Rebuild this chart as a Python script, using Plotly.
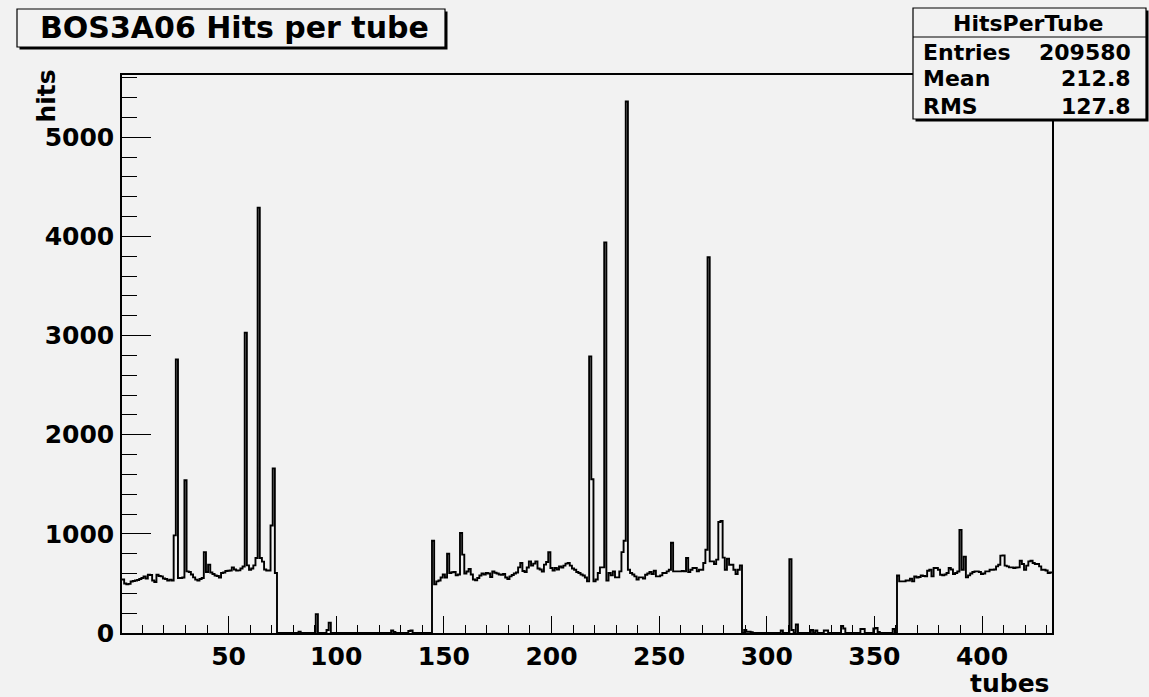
import plotly.graph_objects as go

# Hits per tube, BOS3A06 chamber (432 tubes, one bin per tube)
hits_001_072 = [
    540, 500, 490, 495, 520, 525, 530, 535, 545, 555, 570, 548,
    588, 585, 530, 514, 588, 575, 571, 550, 545, 528, 538, 530,
    985, 2760, 555, 554, 560, 1540, 622, 615, 590, 561, 538, 528,
    545, 555, 816, 615, 690, 610, 595, 580, 575, 560, 605, 610,
    625, 628, 630, 662, 640, 630, 632, 650, 670, 3030, 682, 638,
    650, 682, 756, 4290, 756, 720, 640, 630, 630, 1085, 1660, 605,
]
hits_073_144 = [
    0, 0, 0, 0, 0, 0, 0, 0, 0, 0, 12, 0,
    0, 0, 0, 0, 0, 0, 190, 0, 0, 0, 0, 30,
    105, 0, 0, 0, 0, 0, 0, 0, 0, 0, 0, 0,
    0, 0, 0, 0, 0, 0, 0, 0, 0, 0, 0, 0,
    0, 0, 0, 0, 0, 25, 10, 0, 0, 0, 0, 0,
    0, 20, 25, 0, 0, 0, 0, 0, 0, 0, 0, 0,
]
hits_145_216 = [
    931, 490, 521, 530, 560, 590, 560, 800, 605, 612, 615, 581,
    590, 1008, 790, 600, 620, 645, 590, 540, 531, 555, 580, 600,
    590, 605, 600, 565, 620, 608, 600, 590, 588, 595, 560, 545,
    571, 585, 600, 610, 662, 706, 625, 615, 660, 722, 680, 700,
    722, 650, 640, 620, 690, 716, 815, 655, 630, 655, 640, 670,
    660, 680, 700, 706, 680, 650, 638, 615, 605, 590, 580, 560,
]
hits_217_288 = [
    521, 2790, 1550, 521, 540, 605, 662, 662, 3940, 528, 605, 581,
    622, 561, 561, 622, 816, 931, 5360, 638, 605, 590, 571, 538,
    561, 561, 548, 588, 600, 615, 595, 628, 571, 571, 581, 605,
    605, 622, 638, 910, 622, 622, 622, 622, 625, 622, 756, 615,
    638, 655, 655, 622, 638, 638, 706, 840, 3790, 722, 722, 696,
    740, 1120, 1130, 760, 638, 749, 689, 689, 638, 595, 638, 682,
]
hits_289_360 = [
    0, 30, 12, 12, 8, 0, 0, 0, 0, 0, 0, 0,
    0, 0, 0, 0, 0, 0, 25, 0, 0, 0, 745, 30,
    0, 85, 0, 0, 0, 0, 0, 0, 30, 0, 25, 0,
    0, 0, 25, 25, 0, 0, 0, 0, 0, 0, 70, 45,
    0, 0, 0, 0, 0, 0, 0, 40, 40, 0, 0, 0,
    0, 45, 50, 10, 0, 0, 0, 0, 0, 0, 40, 0,
]
hits_361_432 = [
    580, 521, 521, 521, 530, 530, 548, 521, 571, 560, 565, 581,
    575, 571, 628, 638, 571, 655, 655, 638, 588, 581, 590, 605,
    655, 640, 595, 605, 620, 1040, 638, 770, 561, 581, 600, 615,
    622, 622, 615, 595, 600, 622, 622, 638, 638, 640, 672, 689,
    780, 783, 680, 672, 662, 662, 655, 660, 662, 729, 696, 638,
    680, 722, 729, 706, 696, 696, 672, 638, 638, 630, 605, 610,
]

hits = (hits_001_072 + hits_073_144 + hits_145_216 +
        hits_217_288 + hits_289_360 + hits_361_432)
tubes = list(range(1, len(hits) + 1))

stats_title = "HitsPerTube"
stats_rows = [("Entries", "209580"), ("Mean", "212.8"), ("RMS", "127.8")]
title_text = "BOS3A06 Hits per tube"

BG = "#f2f2f2"
FONT = "DejaVu Sans"

# step outline: each bin drawn from its lower edge to the next one
edges = [t - 0.5 for t in tubes] + [tubes[-1] + 0.5]
step_y = hits + [hits[-1]]

fig = go.Figure()
fig.add_trace(go.Scatter(
    x=edges, y=step_y, mode="lines", line_shape="hv",
    line=dict(color="black", width=1.9), hoverinfo="skip", showlegend=False,
))

# frame geometry in pixels
W, H = 1149, 697
PL, PR, PT, PB = 122, 1052, 75, 633


def fx(x):
    return (x - PL) / (PR - PL)


def fy(y):
    return (PB - y) / (PB - PT)


shapes = []


def pave(x0, y0, x1, y1, shadow=2.5):
    shapes.append(dict(type="rect", xref="paper", yref="paper", layer="above",
                       x0=fx(x0 + shadow), x1=fx(x1 + shadow),
                       y0=fy(y0 + shadow), y1=fy(y1 + shadow),
                       fillcolor="black", line=dict(width=0)))
    shapes.append(dict(type="rect", xref="paper", yref="paper", layer="above",
                       x0=fx(x0), x1=fx(x1), y0=fy(y0), y1=fy(y1),
                       fillcolor=BG, line=dict(color="black", width=1.2)))


# title box and statistics box
pave(17, 9, 445, 47)
pave(913, 8, 1146, 119)
shapes.append(dict(type="line", xref="paper", yref="paper", layer="above",
                   x0=fx(913), x1=fx(1146), y0=fy(37), y1=fy(37),
                   line=dict(color="black", width=1.2)))

annotations = [
    dict(text="<b>%s</b>" % title_text, x=fx(38), y=fy(28), xref="paper", yref="paper",
         xanchor="left", yanchor="middle", showarrow=False,
         font=dict(family=FONT, size=30, color="black")),
    dict(text="<b>%s</b>" % stats_title, x=fx(1028), y=fy(23), xref="paper", yref="paper",
         xanchor="center", yanchor="middle", showarrow=False,
         font=dict(family=FONT, size=22, color="black")),
    dict(text="<b>hits</b>", x=fx(46), y=fy(68), xref="paper", yref="paper",
         xanchor="center", yanchor="top", showarrow=False, textangle=-90,
         font=dict(family=FONT, size=25, color="black")),
    dict(text="<b>tubes</b>", x=fx(1051), y=fy(683), xref="paper", yref="paper",
         xanchor="right", yanchor="middle", showarrow=False,
         font=dict(family=FONT, size=25, color="black")),
]
for i, (label, value) in enumerate(stats_rows):
    yc = 52 + i * 27
    annotations.append(dict(text="<b>%s</b>" % label, x=fx(921), y=fy(yc),
                            xref="paper", yref="paper", xanchor="left", yanchor="middle",
                            showarrow=False, font=dict(family=FONT, size=22, color="black")))
    annotations.append(dict(text="<b>%s</b>" % value, x=fx(1133), y=fy(yc),
                            xref="paper", yref="paper", xanchor="right", yanchor="middle",
                            showarrow=False, font=dict(family=FONT, size=22, color="black")))

tick_font = dict(family=FONT, size=25, color="black", weight="bold")

fig.update_layout(
    width=W, height=H,
    margin=dict(l=PL, r=W - PR, t=PT, b=H - PB, pad=0),
    paper_bgcolor=BG, plot_bgcolor=BG,
    shapes=shapes, annotations=annotations,
    showlegend=False,
    xaxis=dict(
        range=[0.5, 432.5], tick0=0, dtick=50, ticks="inside", ticklen=17,
        tickwidth=1.2, tickcolor="black", showline=True, mirror=True,
        linecolor="black", linewidth=1.5, showgrid=False, zeroline=False,
        tickfont=tick_font, ticklabelstandoff=0,
        minor=dict(tick0=0, dtick=10, ticks="inside", ticklen=8,
                   tickwidth=1.2, tickcolor="black", showgrid=False),
    ),
    yaxis=dict(
        range=[0, 5628], tick0=0, dtick=1000, ticks="inside", ticklen=29,
        tickwidth=1.2, tickcolor="black", showline=True, mirror=True,
        linecolor="black", linewidth=1.5, showgrid=False, zeroline=False,
        tickfont=tick_font, ticklabelstandoff=1,
        minor=dict(tick0=0, dtick=200, ticks="inside", ticklen=15,
                   tickwidth=1.2, tickcolor="black", showgrid=False),
    ),
)

fig.write_html("out.html")
